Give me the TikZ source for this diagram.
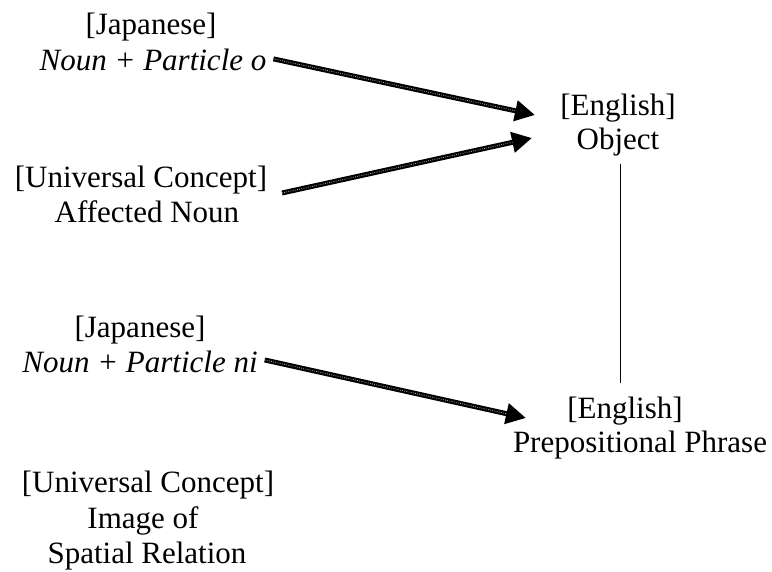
\documentclass[tikz,border=0pt]{standalone}
\usepackage{fontspec}
\setmainfont{Liberation Serif}
\usetikzlibrary{arrows.meta}
\tikzset{
  txt/.style={inner sep=0pt, anchor=base, font=\fontsize{31}{35}\selectfont},
  itxt/.style={txt, font=\fontsize{31}{35}\selectfont\itshape},
  fat/.style={line width=5pt, draw=black, -{Triangle[length=20pt,width=20pt]},
    postaction={draw=white!70!black, line width=0.8pt, dash pattern=on 0.8pt off 1.4pt, -, shorten >=20pt}},
  thin/.style={line width=0.9pt, draw=black}
}
\begin{document}
\begin{tikzpicture}[x=1pt,y=-1pt]
\useasboundingbox[fill=white] (0,0) rectangle (772,571);
% left column
\node[txt]  (jpA1) at (151,34)  {[Japanese]};
\node[itxt] (jpA2) at (153,70)  {Noun + Particle o};
\node[txt]  (ucA1) at (141,187) {[Universal Concept]};
\node[txt]  (ucA2) at (147,222) {Affected Noun};
\node[txt]  (jpB1) at (140,337) {[Japanese]};
\node[itxt] (jpB2) at (140,372) {Noun + Particle ni};
\node[txt]  (ucB1) at (148,492) {[Universal Concept]};
\node[txt]  (ucB2) at (143,528) {Image of};
\node[txt]  (ucB3) at (147,563) {Spatial Relation};
% right column
\node[txt]  (enA1) at (618,115) {[English]};
\node[txt]  (enA2) at (618,149) {Object};
\node[txt]  (enB1) at (625,418) {[English]};
\node[txt]  (enB2) at (640,452) {Prepositional Phrase};
% arrow ends
\coordinate (s2) at (282,193);
\coordinate (t1) at (535,115);
\coordinate (t2) at (532,138);
\coordinate (t3) at (526,418);
% connectors
\draw[fat, shorten <=7pt] ([yshift=2pt]jpA2.east) -- (t1);
\draw[fat] (s2) -- (t2);
\draw[fat, shorten <=7pt] ([yshift=3pt]jpB2.east) -- (t3);
\draw[thin, shorten <=8pt, shorten >=13pt] (enA2.south) ++(2,0) coordinate (l0) -- (l0 |- enB1.north);
\end{tikzpicture}
\end{document}
